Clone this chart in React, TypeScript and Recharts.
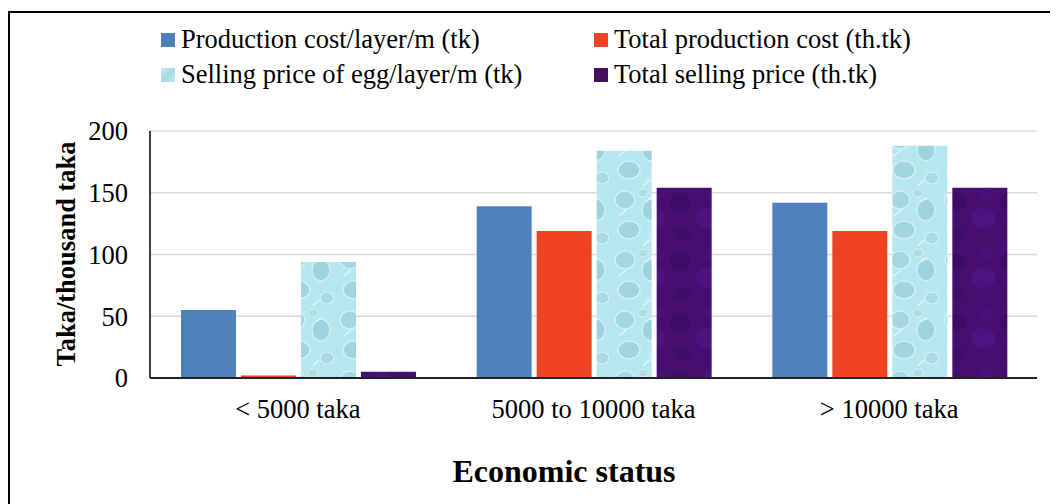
import React from "react";
import { BarChart, Bar, XAxis, YAxis, CartesianGrid } from "recharts";

const categories = ["< 5000 taka", "5000 to 10000 taka", "> 10000 taka"];
const productionCostPerLayer = [55, 139, 142];
const totalProductionCost = [2, 119, 119];
const sellingPricePerLayer = [94, 184, 188];
const totalSellingPrice = [5, 154, 154];
const yTicks = [0, 50, 100, 150, 200];

const seriesNames = [
  "Production cost/layer/m (tk)",
  "Total production cost (th.tk)",
  "Selling price of egg/layer/m (tk)",
  "Total selling price (th.tk)",
];

const data = categories.map((c, i) => ({
  name: c,
  a: productionCostPerLayer[i],
  b: totalProductionCost[i],
  c: sellingPricePerLayer[i],
  d: totalSellingPrice[i],
}));

const FONT = '"Liberation Serif", "Times New Roman", serif';

const legendItems = [
  { name: seriesNames[0], color: "#4f81bd", x: 153, y: 25 },
  { name: seriesNames[1], color: "#ef4222", x: 586, y: 25 },
  { name: seriesNames[2], color: "linear-gradient(135deg,#c6ecf2,#a6d9e3 50%,#c6ecf2)", x: 153, y: 60 },
  { name: seriesNames[3], color: "#43105e", x: 586, y: 60 },
];

const XTitle = (props: any) => (
  <text
    x={556}
    y={474}
    textAnchor="middle"
    fontFamily={FONT}
    fontWeight="bold"
    fontSize={32}
    fill="#000"
  >
    Economic status
  </text>
);

const YTitle = (props: any) => (
  <text
    x={0}
    y={0}
    transform="translate(67,246) rotate(-90)"
    textAnchor="middle"
    fontFamily={FONT}
    fontWeight="bold"
    fontSize={26.5}
    fill="#000"
  >
    Taka/thousand taka
  </text>
);

export default function App() {
  return (
    <div
      style={{
        position: "relative",
        width: 1050,
        height: 496,
        overflow: "hidden",
        background: "#fff",
      }}
    >
      <div
        style={{
          position: "absolute",
          left: 0,
          top: 3,
          width: 1100,
          height: 600,
          border: "2.5px solid #000",
          boxSizing: "border-box",
        }}
      />
      <BarChart
        width={1050}
        height={496}
        data={data}
        margin={{ top: 123, right: 21, bottom: 66, left: 0 }}
        barGap={5}
        barCategoryGap={31}
        style={{ position: "absolute", left: 0, top: 0 }}
      >
        <defs>
          <pattern id="water" width="55" height="60" patternUnits="userSpaceOnUse">
            <rect width="55" height="60" fill="#b6e6ee" />
            <ellipse cx="12" cy="12" rx="10" ry="9" fill="#a3d8e2" stroke="#d3f1f6" strokeWidth="1.4" />
            <ellipse cx="38" cy="22" rx="9" ry="11" fill="#9dd3de" stroke="#d0eff5" strokeWidth="1.4" />
            <ellipse cx="16" cy="42" rx="11" ry="9" fill="#a0d5df" stroke="#d3f1f6" strokeWidth="1.4" />
            <ellipse cx="44" cy="50" rx="7" ry="6" fill="#a8dbe5" stroke="#d8f3f7" strokeWidth="1.2" />
            <ellipse cx="30" cy="5" rx="5" ry="4" fill="#abdde6" stroke="#d8f3f7" strokeWidth="1" />
            <path d="M6 28 L13 22" stroke="#e6f8fb" strokeWidth="1.4" />
            <path d="M30 58 L36 52" stroke="#e6f8fb" strokeWidth="1.4" />
            <path d="M33 14 L39 9" stroke="#e6f8fb" strokeWidth="1.2" />
          </pattern>
          <pattern id="velvet" width="55" height="60" patternUnits="userSpaceOnUse">
            <rect width="55" height="60" fill="#460e70" />
            <ellipse cx="12" cy="14" rx="11" ry="9" fill="#3b0b5f" opacity="0.7" />
            <ellipse cx="40" cy="30" rx="12" ry="10" fill="#54168a" opacity="0.6" />
            <ellipse cx="14" cy="46" rx="9" ry="8" fill="#3e0c64" opacity="0.6" />
            <ellipse cx="44" cy="6" rx="7" ry="5" fill="#4f1380" opacity="0.6" />
          </pattern>
        </defs>
        <CartesianGrid vertical={false} stroke="#d9d9d9" strokeWidth={1.5} />
        <XAxis
          dataKey="name"
          axisLine={{ stroke: "#222", strokeWidth: 2 }}
          tickLine={false}
          tickSize={0}
          tickMargin={21}
          height={60}
          tick={{ fontFamily: FONT, fontSize: 26.5, fill: "#000" }}
          label={<XTitle />}
        />
        <YAxis
          domain={[0, 200]}
          ticks={yTicks}
          width={142}
          axisLine={{ stroke: "#000", strokeWidth: 1.5 }}
          tickLine={false}
          tickSize={0}
          tickMargin={22}
          tick={{ fontFamily: FONT, fontSize: 26.5, fill: "#000" }}
          label={<YTitle />}
        />
        <Bar dataKey="a" name={seriesNames[0]} fill="#4f81bd" isAnimationActive={false} />
        <Bar dataKey="b" name={seriesNames[1]} fill="#ef4222" isAnimationActive={false} />
        <Bar dataKey="c" name={seriesNames[2]} fill="url(#water)" isAnimationActive={false} />
        <Bar dataKey="d" name={seriesNames[3]} fill="url(#velvet)" isAnimationActive={false} />
      </BarChart>
      {legendItems.map((it) => (
        <div
          key={it.name}
          style={{
            position: "absolute",
            left: it.x,
            top: it.y,
            display: "flex",
            alignItems: "center",
            fontFamily: FONT,
            fontSize: 26.5,
            lineHeight: "14px",
            color: "#000",
            whiteSpace: "nowrap",
          }}
        >
          <span
            style={{
              display: "inline-block",
              width: 14,
              height: 14,
              background: it.color,
              marginRight: 6,
            }}
          />
          <span style={{ position: "relative", top: -1 }}>{it.name}</span>
        </div>
      ))}
    </div>
  );
}
